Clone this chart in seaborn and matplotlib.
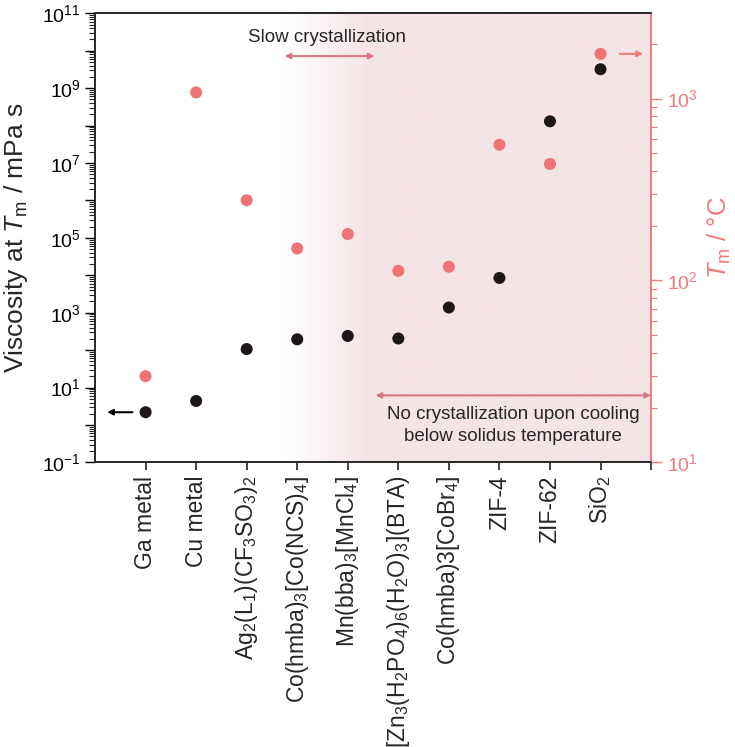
import numpy as np
import pandas as pd
import matplotlib
matplotlib.use("Agg")
import matplotlib.pyplot as plt
import matplotlib.ticker as mticker
import seaborn as sns

# data
materials = [
    "Ga metal",
    "Cu metal",
    "Ag$_2$(L$_1$)(CF$_3$SO$_3$)$_2$",
    "Co(hmba)$_3$[Co(NCS)$_4$]",
    "Mn(bba)$_3$[MnCl$_4$]",
    "[Zn$_3$(H$_2$PO$_4$)$_6$(H$_2$O)$_3$](BTA)",
    "Co(hmba)3[CoBr$_4$]",
    "ZIF-4",
    "ZIF-62",
    "SiO$_2$",
]
viscosity = [2.2, 4.4, 107, 195, 240, 205, 1380, 8500, 1.3e8, 3.2e9]   # mPa s
melting_temp = [29.8, 1080, 276, 150, 180, 113, 119, 557, 437, 1760]   # deg C

black = "#1e1718"
red = "#ee7375"
axis_red = "#f07a7a"
arrow_red = "#d87884"
pink = np.array([245, 228, 230]) / 255

sns.set_style("ticks")
plt.rcParams["font.family"] = ["Liberation Sans", "DejaVu Sans"]
plt.rcParams["mathtext.fontset"] = "custom"
plt.rcParams["mathtext.rm"] = "Liberation Sans"
plt.rcParams["mathtext.it"] = "Liberation Sans:italic"
plt.rcParams["mathtext.bf"] = "Liberation Sans:bold"

df = pd.DataFrame({"pos": np.arange(len(materials)), "material": materials,
                   "viscosity": viscosity, "tm": melting_temp})

fig = plt.figure(figsize=(7.35, 7.47), dpi=100)
ax = fig.add_axes([0.1293, 0.3809, 0.7565, 0.6013])
xlim = (-1, 10)

# background: white -> pink gradient
cols = np.linspace(xlim[0], xlim[1], 600)
frac = np.clip((cols - 2.7) / (4.4 - 2.7), 0, 1)
img = (1 - frac)[:, None] * np.ones(3) + frac[:, None] * pink
ax.imshow(img[None, :, :], extent=[0, 1, 0, 1], transform=ax.transAxes,
          aspect="auto", zorder=0)

ax2 = ax.twinx()

sns.scatterplot(data=df, x="pos", y="viscosity", ax=ax, color=black, s=75,
                edgecolor="none", zorder=3)
sns.scatterplot(data=df, x="pos", y="tm", ax=ax2, color=red, s=75,
                edgecolor="none", zorder=3)

ax.set_yscale("log")
ax.set_ylim(1e-1, 1e11)
ax.set_xlim(*xlim)
ax2.set_yscale("log")
ax2.set_ylim(10, 2940)
ax2.set_xlim(*xlim)

# left axis ticks
ax.yaxis.set_major_locator(mticker.LogLocator(base=10, numticks=20))
ax.yaxis.set_major_formatter(mticker.FuncFormatter(
    lambda v, p: "$10^{%d}$" % round(np.log10(v)) if round(np.log10(v)) % 2 else ""))
ax.yaxis.set_minor_locator(mticker.LogLocator(base=10, subs=np.arange(2, 10), numticks=20))
ax.yaxis.set_minor_formatter(mticker.NullFormatter())
ax.tick_params(axis="y", which="major", length=7, width=1, labelsize=14, colors="black")
ax.tick_params(axis="y", which="minor", length=4, width=0.8)

ax.set_xticks(df["pos"])
ax.set_xticks([10], minor=True)
ax.set_xticklabels(materials, rotation=90, fontsize=16.5)
ax.tick_params(axis="x", which="both", length=6, width=1.2)
ax.set_xlabel("")
ax.set_ylabel("Viscosity at $T_\\mathrm{m}$ / mPa s", fontsize=19)
ax.yaxis.set_label_coords(-0.117, 0.5)

# right axis
ax2.yaxis.set_major_locator(mticker.LogLocator(base=10, numticks=10))
ax2.yaxis.set_major_formatter(mticker.FuncFormatter(
    lambda v, p: "$10^{%d}$" % round(np.log10(v))))
ax2.yaxis.set_minor_locator(mticker.LogLocator(base=10, subs=np.arange(2, 10), numticks=10))
ax2.yaxis.set_minor_formatter(mticker.NullFormatter())
ax2.tick_params(axis="y", which="major", length=8, width=1, labelsize=14,
                colors=axis_red)
ax2.tick_params(axis="y", which="minor", length=4.5, width=0.8, colors=axis_red)
ax2.set_ylabel("$T_\\mathrm{m}$ / °C", fontsize=18.5, color=axis_red)
ax2.yaxis.set_label_coords(1.098, 0.5)

for a in (ax, ax2):
    for s in a.spines.values():
        s.set_linewidth(1.2)
    a.spines["top"].set_visible(True)
    a.spines["right"].set_visible(True)
ax2.spines["right"].set_color(axis_red)
ax.spines["right"].set_color(axis_red)

# annotations
ax.text(3.58, 2.2e10, "Slow crystallization", ha="center", va="center", fontsize=13.5)
ax.annotate("", xy=(2.75, 7.2e9), xytext=(4.53, 7.2e9),
            arrowprops=dict(arrowstyle="<|-|>", color=arrow_red, lw=1.5,
                            mutation_scale=8, shrinkA=0, shrinkB=0))
ax.annotate("", xy=(4.55, 6.2), xytext=(10, 6.2),
            arrowprops=dict(arrowstyle="<|-|>", color=arrow_red, lw=1.5,
                            mutation_scale=8, shrinkA=0, shrinkB=0))
ax.text(7.27, 0.95, "No crystallization upon cooling\nbelow solidus temperature",
        ha="center", va="center", fontsize=13.5, linespacing=1.4)
ax.annotate("", xy=(-0.76, 2.2), xytext=(-0.26, 2.2),
            arrowprops=dict(arrowstyle="-|>", color="black", lw=1.5,
                            mutation_scale=8, shrinkA=0, shrinkB=0))
ax2.annotate("", xy=(9.84, 1760), xytext=(9.38, 1760),
             arrowprops=dict(arrowstyle="-|>", color=axis_red, lw=1.5,
                             mutation_scale=8, shrinkA=0, shrinkB=0))

fig.savefig("out.png", dpi=100)
